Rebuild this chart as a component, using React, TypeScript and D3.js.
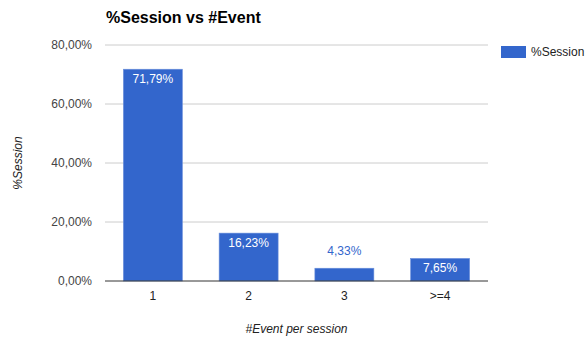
import * as d3 from "d3";

const categories = ["1", "2", "3", ">=4"];
const sessionShare = [71.79, 16.23, 4.33, 7.65];
const yTicks = [0, 20, 40, 60, 80];
const seriesName = "%Session";

const W = 586;
const H = 338;
const margin = { top: 45, right: 98, bottom: 57, left: 105 };
const BLUE = "#3366cc";

const fmt = (v: number) => v.toFixed(2).replace(".", ",") + "%";

export default function App() {
  const x = d3
    .scaleBand<string>()
    .domain(categories)
    .range([margin.left, W - margin.right])
    .paddingInner(0.384)
    .paddingOuter(0.192);
  const y = d3.scaleLinear().domain([0, 80]).range([H - margin.bottom, margin.top]);
  const font = "'Liberation Sans', Arial, sans-serif";

  return (
    <svg
      width={W}
      height={H}
      style={{ position: "absolute", left: 0, top: 0, background: "#fff", fontFamily: font }}
    >
      <text x={106} y={23} fontSize={16} fontWeight="bold" fill="#000">
        %Session vs #Event
      </text>

      {/* gridlines + y ticks */}
      {yTicks.map((t) => (
        <g key={t}>
          {t !== 0 && (
            <line x1={margin.left} x2={W - margin.right} y1={y(t)} y2={y(t)} stroke="#cccccc" strokeWidth={1} />
          )}
          <text x={92} y={y(t) + 4} textAnchor="end" fontSize={12} fill="#444">
            {fmt(t)}
          </text>
        </g>
      ))}

      {/* bars */}
      {categories.map((c, i) => {
        const v = sessionShare[i];
        const top = y(v);
        const h = y(0) - top;
        const inside = h > 20;
        return (
          <g key={c}>
            <rect x={x(c)} y={top} width={x.bandwidth()} height={h} fill={BLUE} stroke="#6a8fdb" strokeWidth={0.6} />
            <text
              x={x(c)! + x.bandwidth() / 2}
              y={inside ? top + 13.5 : top - 13}
              textAnchor="middle"
              fontSize={12}
              fill={inside ? "#fff" : BLUE}
            >
              {fmt(v)}
            </text>
            <text x={x(c)! + x.bandwidth() / 2} y={300} textAnchor="middle" fontSize={12} fill="#222">
              {c}
            </text>
          </g>
        );
      })}

      {/* baseline */}
      <line x1={margin.left} x2={W - margin.right} y1={y(0)} y2={y(0)} stroke="#333" strokeWidth={1} />

      {/* axis titles */}
      <text
        transform={`translate(22,${(y(0) + y(80)) / 2}) rotate(-90)`}
        textAnchor="middle"
        fontSize={12}
        fontStyle="italic"
        fill="#222"
      >
        %Session
      </text>
      <text
        x={(margin.left + W - margin.right) / 2}
        y={333}
        textAnchor="middle"
        fontSize={12}
        fontStyle="italic"
        fill="#222"
      >
        #Event per session
      </text>

      {/* legend */}
      <rect x={501} y={46} width={25} height={12} fill={BLUE} />
      <text x={531} y={56} fontSize={12} fill="#222">
        {seriesName}
      </text>
    </svg>
  );
}
